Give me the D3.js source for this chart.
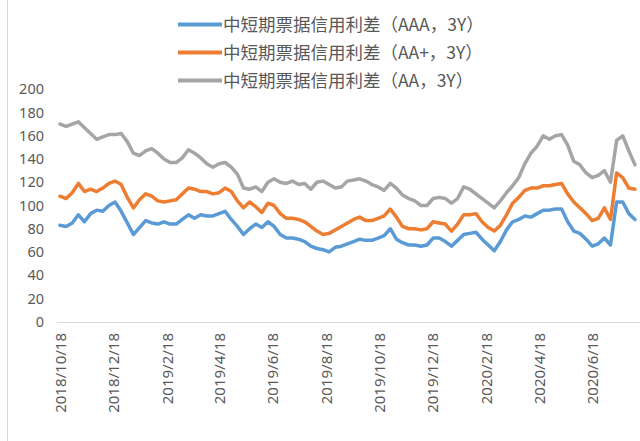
<!DOCTYPE html>
<html><head><meta charset="utf-8">
<script src="https://cdn.jsdelivr.net/npm/d3@7"></script>
<style>html,body{margin:0;padding:0;background:#fff;}svg{display:block;}</style>
</head><body>
<svg id="chart" width="640" height="441"></svg>
<script>
// ---- data (weekly samples) ----
const startDate = "2018-10-18";
const seriesNames = ["中短期票据信用利差（AAA，3Y）", "中短期票据信用利差（AA+，3Y）", "中短期票据信用利差（AA，3Y）"];
const seriesColors = ["#5B9BD5", "#ED7D31", "#A5A5A5"];
const aaa = [83,82,85,92,86,93,96,95,100,103, 95,85,75,81,87,85,84,86,84,84, 88,92,89,92,91,91,93,95,88,82, 75,80,84,81,86,82,75,72,72,71, 69,65,63,62,60,64,65,67,69,71, 70,70,72,74,80,71,68,66,66,65, 66,72,72,69,65,70,75,76,77,71, 66,61,69,79,86,88,91,90,93,96, 96,97,97,86,78,76,71,65,67,72, 66,103,103,93,88];
const aaPlus = [108,106,111,119,112,114,112,115,119,121, 118,107,98,105,110,108,104,103,104,105, 110,115,114,112,112,110,111,115,112,104, 98,103,99,94,102,100,93,89,89,88, 86,82,78,75,76,79,82,85,88,90, 87,87,89,91,97,90,82,80,80,79, 80,86,85,84,78,84,92,92,93,86, 81,78,83,92,102,107,113,115,115,117, 117,118,119,110,103,98,93,87,89,98, 88,128,124,115,114];
const aa = [170,168,170,172,167,162,157,159,161,161, 162,155,145,143,147,149,145,140,137,137, 141,148,145,141,136,133,136,137,133,127, 115,114,116,112,120,123,120,119,121,118, 119,114,120,121,118,115,116,121,122,123, 121,118,116,113,119,115,109,106,104,100, 100,106,107,106,102,106,116,114,110,106, 102,98,104,111,117,124,136,145,151,160, 157,160,161,152,138,135,128,124,126,130, 120,156,160,147,135];
const xTickLabels = ["2018/10/18","2018/12/18","2019/2/18","2019/4/18","2019/6/18","2019/8/18","2019/10/18","2019/12/18","2020/2/18","2020/4/18","2020/6/18"];
const yTicks = [0,20,40,60,80,100,120,140,160,180,200];

const parse = d3.timeParse("%Y-%m-%d");
const parseTick = d3.timeParse("%Y/%m/%d");
const start = parse(startDate);
const dates = aaa.map((_, i) => d3.timeDay.offset(start, 7 * i));
const series = [aaa, aaPlus, aa];

const svg = d3.select("#chart");
const endDate = d3.timeDay.offset(start, 670);
const x = d3.scaleTime().domain([start, endDate]).range([60, 60 + 670 * 0.8738]);
const y = d3.scaleLinear().domain([0, 200]).range([321.7, 89.3]);

// faint chart-area border at left
svg.append("line").attr("x1", 7.5).attr("x2", 7.5).attr("y1", 0).attr("y2", 441)
  .attr("stroke", "#d9d9d9").attr("stroke-width", 1);

// x axis line
svg.append("line").attr("x1", 57).attr("x2", 640).attr("y1", 322.5).attr("y2", 322.5)
  .attr("stroke", "#d9d9d9").attr("stroke-width", 1.2);

// y axis labels
const yAxis = d3.axisLeft(y).tickValues(yTicks).tickSize(0).tickPadding(0);
const gy = svg.append("g").attr("transform", "translate(44,0)").call(yAxis);
gy.select(".domain").remove();
gy.selectAll("text").attr("font-family", "'Noto Sans', sans-serif").attr("font-size", 14.5)
  .attr("fill", "#595959");

// x axis labels (rotated)
const xAxis = d3.axisBottom(x).tickValues(xTickLabels.map(s => parseTick(s)))
  .tickFormat((d, i) => xTickLabels[i]).tickSize(0).tickPadding(0);
const gx = svg.append("g").attr("transform", "translate(0,333)").call(xAxis);
gx.select(".domain").remove();
gx.selectAll("text")
  .attr("font-family", "'Noto Sans', sans-serif").attr("font-size", 15).attr("fill", "#595959")
  .attr("text-anchor", "end").attr("transform", "rotate(-90)")
  .attr("x", 0).attr("y", 0).attr("dy", "0.36em");

// lines
const line = d3.line().x((d, i) => x(dates[i])).y(d => y(d)).curve(d3.curveLinear);
series.forEach((s, k) => {
  svg.append("path").datum(s).attr("d", line).attr("fill", "none")
    .attr("stroke", seriesColors[k]).attr("stroke-width", 3.5)
    .attr("stroke-linejoin", "round").attr("stroke-linecap", "round");
});

// legend
const legendY = [24.5, 52.5, 80.5];
seriesNames.forEach((name, k) => {
  const g = svg.append("g").attr("transform", `translate(0,${legendY[k]})`);
  g.append("line").attr("x1", 178).attr("x2", 222).attr("y1", 0).attr("y2", 0)
    .attr("stroke", seriesColors[k]).attr("stroke-width", 4);
  g.append("text").attr("x", 223).attr("y", 0).attr("dy", "0.36em")
    .attr("font-family", "'Noto Sans CJK SC', sans-serif").attr("font-size", 17.5)
    .attr("fill", "#595959").text(name);
});
</script>
</body></html>
